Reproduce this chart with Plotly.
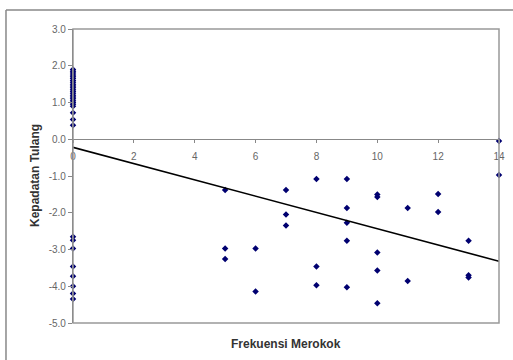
import plotly.graph_objects as go

# Data
frekuensi = [0]*24 + [0]*8 + [5, 5, 5, 6, 6, 7, 7, 7, 8, 8, 8,
             9, 9, 9, 9, 9, 10, 10, 10, 10, 10, 11, 11, 12, 12, 13, 13, 13, 14, 14]
kepadatan = [1.9, 1.85, 1.8, 1.75, 1.7, 1.65, 1.6, 1.55, 1.5, 1.45, 1.4, 1.35,
             1.3, 1.25, 1.2, 1.15, 1.1, 1.05, 1.0, 0.95, 0.9, 0.72, 0.54, 0.38,
             -2.65, -2.75, -2.97, -3.46, -3.73, -4.0, -4.2, -4.35,
             -1.38, -2.97, -3.26, -2.97, -4.14, -1.38, -2.05, -2.35, -1.08, -3.46, -3.97,
             -1.08, -1.87, -2.27, -2.76, -4.03, -1.5, -1.57, -3.08, -3.57, -4.46,
             -1.87, -3.86, -1.49, -1.98, -2.76, -3.7, -3.76, -0.05, -0.97]
trend_x = [0, 14]
trend_y = [-0.22, -3.32]

y_ticks = [3, 2, 1, 0, -1, -2, -3, -4, -5]
x_ticks = [0, 2, 4, 6, 8, 10, 12, 14]

fig = go.Figure()
fig.add_trace(go.Scatter(
    x=frekuensi, y=kepadatan, mode="markers",
    marker=dict(symbol="diamond", size=5, color="#000070"),
    cliponaxis=False, showlegend=False))
fig.add_trace(go.Scatter(
    x=trend_x, y=trend_y, mode="lines",
    line=dict(color="black", width=1.6),
    cliponaxis=False, showlegend=False))

tickfont = dict(family="Liberation Sans, Arial", size=10, color="#666666")
titlefont = dict(family="Liberation Sans, Arial", size=12, color="#333333")
fig.update_layout(
    width=513, height=360,
    margin=dict(l=73, r=14, t=29, b=37, autoexpand=False),
    paper_bgcolor="white", plot_bgcolor="white",
    xaxis=dict(range=[0, 14], tickvals=x_ticks, ticktext=[str(v) for v in x_ticks],
               anchor="free", position=0.625, showline=True, linecolor="#888888",
               linewidth=1.2, ticks="outside", ticklen=3, tickcolor="#888888",
               ticklabelstandoff=5,
               showgrid=False, zeroline=False, tickfont=tickfont, automargin=False),
    yaxis=dict(range=[-5, 3], tickvals=y_ticks, ticktext=[f"{v:.1f}" for v in y_ticks],
               showline=True, linecolor="#666666", linewidth=1.2, ticks="outside",
               ticklen=4, tickcolor="#888888", showgrid=False, zeroline=False,
               tickfont=tickfont, automargin=False),
    shapes=[
        dict(type="rect", xref="paper", yref="paper", x0=0, y0=0, x1=1, y1=1,
             line=dict(color="#999999", width=1.5)),
        dict(type="line", xref="paper", yref="paper", x0=-0.1573, x1=1.1, y0=1.0646, y1=1.0646,
             line=dict(color="#888888", width=1.5)),
        dict(type="line", xref="paper", yref="paper", x0=-0.1573, x1=-0.1573, y0=-0.2, y1=1.0646,
             line=dict(color="#888888", width=1.5)),
    ],
    annotations=[
        dict(text="<b>Kepadatan Tulang</b>", xref="paper", yref="paper", x=0, y=0.5,
             xshift=-47, textangle=-90, showarrow=False, font=titlefont),
        dict(text="<b>Frekuensi Merokok</b>", xref="paper", yref="paper", x=0.5, y=0,
             yshift=-30, showarrow=False, font=titlefont),
    ],
)
fig.write_html("out.html", config={"displayModeBar": False},
               post_script="document.body.style.margin='0';document.body.style.overflow='hidden';")
